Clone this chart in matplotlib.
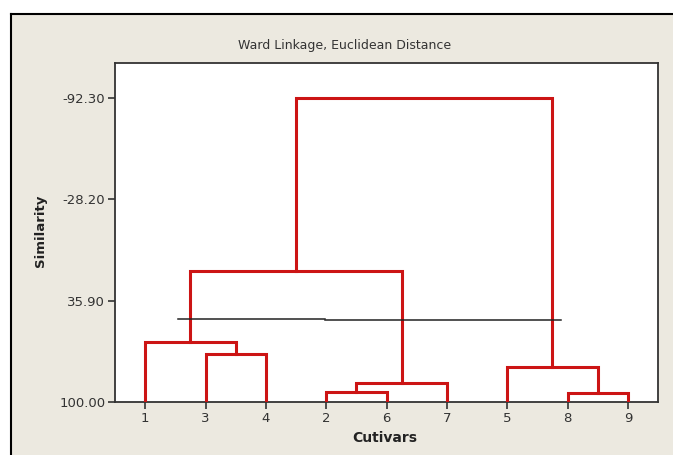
import matplotlib
matplotlib.use("Agg")
import matplotlib.pyplot as plt
from matplotlib.patches import Rectangle

# ---- data ----
leaf_labels = ["1", "3", "4", "2", "6", "7", "5", "8", "9"]
# merges: (left node, right node, similarity level); nodes 0..8 are leaves in display order,
# new clusters get ids 9, 10, ...
merges = [
    (3, 4, 93.7),    # 9  : 2 + 6
    (7, 8, 94.3),    # 10 : 8 + 9
    (9, 5, 88.0),    # 11 : (2,6) + 7
    (1, 2, 69.6),    # 12 : 3 + 4
    (6, 10, 77.9),   # 13 : 5 + (8,9)
    (0, 12, 62.0),   # 14 : 1 + (3,4)
    (14, 11, 17.0),  # 15 : (1,3,4) + (2,6,7)
    (15, 13, -92.3), # 16 : all
]
y_ticks = [100.00, 35.90, -28.20, -92.30]
y_tick_labels = ["100.00", "35.90", "-28.20", "-92.30"]
cut_level = [47.5, 48.3]
cut_x = [(1.54, 3.98), (3.98, 7.89)]

W, H = 673, 455
fig = plt.figure(figsize=(W / 100, H / 100), dpi=100)
fig.patch.set_facecolor("white")

# beige panel with black frame on left/top
panel = Rectangle((11 / W, 0), 1.0, (H - 14) / H, transform=fig.transFigure,
                  facecolor="#ECE9E0", edgecolor="none", zorder=-10)
fig.patches.append(panel)
fig.add_artist(plt.Line2D([11 / W, 11 / W], [0, (H - 14) / H], transform=fig.transFigure,
                          color="black", lw=1.5))
fig.add_artist(plt.Line2D([11 / W, 1], [(H - 14) / H, (H - 14) / H], transform=fig.transFigure,
                          color="black", lw=1.5))

ax = fig.add_axes([115 / W, (H - 402) / H, (658 - 115) / W, (402 - 63) / H])
ax.set_facecolor("white")

red = "#CC1414"
xpos = {i: i + 1 for i in range(len(leaf_labels))}
ypos = {i: 100.0 for i in range(len(leaf_labels))}
nid = len(leaf_labels)
for a, b, h in merges:
    xa, xb = xpos[a], xpos[b]
    ax.plot([xa, xa, xb, xb], [ypos[a], h, h, ypos[b]], color=red, lw=2.2,
            solid_joinstyle="miter", zorder=3)
    xpos[nid] = (xa + xb) / 2
    ypos[nid] = h
    nid += 1

for (x0, x1), lvl in zip(cut_x, cut_level):
    ax.plot([x0, x1], [lvl, lvl], color="#222222", lw=1.1, zorder=4)

ax.set_xlim(0.5, 9.5)
ax.set_ylim(100, -114.5)
ax.set_xticks(range(1, len(leaf_labels) + 1))
ax.set_xticklabels(leaf_labels)
ax.set_yticks(y_ticks)
ax.set_yticklabels(y_tick_labels)
for s in ax.spines.values():
    s.set_color("#333333")
    s.set_linewidth(1.3)
ax.tick_params(axis="both", direction="out", length=5, width=1.2, color="#333333",
               labelsize=9.5, labelcolor="#333333", pad=2)

fig.text(345 / W, 1 - 45 / H, "Ward Linkage, Euclidean Distance", ha="center", va="center",
         fontsize=9, color="#333333")
fig.text(40 / W, 1 - 231 / H, "Similarity", rotation=90, ha="center", va="center",
         fontsize=9.5, fontweight="bold", color="#222222")
fig.text(385 / W, 1 - 438 / H, "Cutivars", ha="center", va="center",
         fontsize=10, fontweight="bold", color="#222222")

fig.savefig("out.png", dpi=100, facecolor=fig.get_facecolor())
